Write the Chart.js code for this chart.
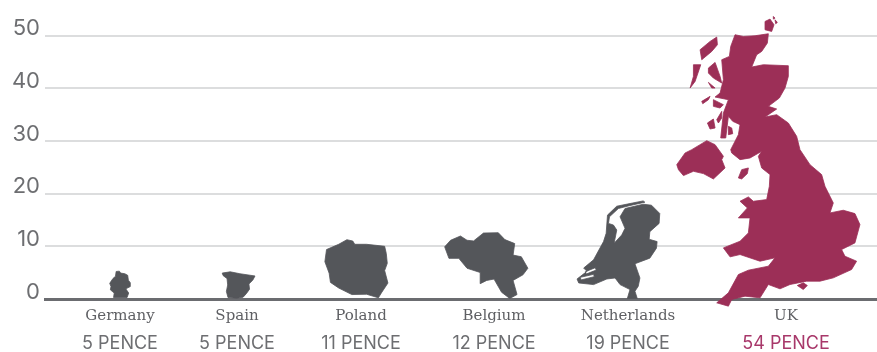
<!DOCTYPE html>
<html lang="en">
<head>
  <meta charset="UTF-8" />
  <title>Price per bag</title>
  <script src="https://cdn.jsdelivr.net/npm/chart.js"></script>
  <style>
    html, body { margin: 0; background: #fff; }
    canvas { display: block; }
  </style>
</head>
<body>
  <canvas id="chart" width="877" height="352"></canvas>
  <script>
    const countries = ['Germany', 'Spain', 'Poland', 'Belgium', 'Netherlands', 'UK'];
    const pence = [5, 5, 11, 12, 19, 54];
    const yTicks = [0, 10, 20, 30, 40, 50];

    // where each country sits along the x axis (the slots are not evenly spaced)
    const slotCentres = [75, 192, 316, 449, 583, 741];
    const xRange = 832;

    const grey = '#54565a';
    const crimson = '#9c2f57';
    const textGrey = '#6d6e71';
    const markFills = [grey, grey, grey, grey, grey, crimson];
    const priceColours = [textGrey, textGrey, textGrey, textGrey, textGrey, '#a8386a'];

    // Country silhouettes on an icon grid of flat x,y pairs. anchor is the grid
    // point on the slot centre and the baseline; a silhouette is sized so that
    // gridPerPence grid rows make up one pence of height.
    const gridPerPence = 15.77;
    const silhouettes = {
      Germany: {
        anchor: [90, 205.5],
        parts: [[78,123, 88,122, 92,128, 105,130, 114,135, 116,150, 122,158, 122,170, 108,177, 117,190, 112,204, 70,204, 72,190, 60,180, 62,170, 58,160, 68,145, 76,138]]
      },
      Spain: {
        anchor: [441, 205.5],
        parts: [[395,128, 420,124, 450,130, 497,137, 490,150, 478,162, 480,178, 470,192, 460,203, 440,206, 413,204, 408,185, 412,165, 410,145, 398,136]]
      },
      Poland: {
        anchor: [813, 205.5],
        parts: [[708,58, 745,42, 770,28, 788,32, 794,42, 830,42, 885,48, 890,70, 893,100, 885,122, 895,160, 875,190, 866,205, 830,194, 785,195, 745,175, 720,158, 716,130, 703,95]]
      },
      Belgium: {
        anchor: [192, 325.5],
        parts: [[42,170, 60,150, 90,137, 110,150, 130,152, 160,128, 205,127, 225,148, 255,160, 250,195, 275,200, 295,235, 280,255, 250,272, 262,315, 240,327, 215,308, 192,268, 170,272, 150,282, 150,248, 110,235, 85,205, 55,205]]
      },
      Netherlands: {
        anchor: [594, 325.5],
        parts: [
          [592,327, 600,300, 570,285, 555,265, 530,268, 490,285, 445,280, 440,268, 470,245, 460,235, 490,210, 520,155, 528,130, 532,75, 560,48, 600,40, 640,32, 645,36, 600,46, 565,55, 538,80, 535,100, 550,105, 560,120, 552,160, 575,135, 585,115, 570,80, 585,55, 640,42, 665,45, 690,70, 688,100, 660,125, 658,148, 682,155, 680,175, 660,205, 615,222, 630,265, 625,290, 615,305, 622,327],
          [465,246, 495,234, 498,241, 468,253],
          [450,263, 490,254, 492,261, 452,271]
        ]
      },
      UK: {
        anchor: [378, 865.5],
        parts: [
          // Great Britain
          [225,75, 250,80, 285,78, 325,72, 322,100, 305,125, 290,135, 275,172, 310,165, 385,168, 385,200, 375,235, 358,265, 325,290, 350,298, 315,322, 350,315, 385,340, 410,380, 420,420,
           450,465, 485,495, 495,530, 520,580, 510,610, 550,602, 585,612, 600,645, 585,700, 545,720, 555,740, 590,755, 575,780, 520,805, 480,815, 440,815, 390,825, 360,838, 325,825, 300,865, 255,860, 215,870, 205,890, 170,880, 205,850, 235,795, 265,782, 325,770, 345,745, 300,755, 240,735, 210,742, 190,715, 240,695, 265,670, 270,625, 235,625, 262,595, 240,575, 265,562, 280,575, 320,570, 328,530, 330,495, 305,475, 295,440, 305,425, 270,445, 240,450, 215,430,
           212,420, 235,375, 240,345, 218,335, 205,320, 197,385, 182,385, 190,310, 205,270, 165,262, 180,250, 190,210, 185,150, 208,140, 212,110],
          // Northern Ireland
          [50,465, 75,430, 95,420, 140,393, 165,405, 190,440, 185,450, 195,475, 160,508, 130,492, 100,485, 70,498, 55,480],
          // Man and Wight
          [235,505, 245,480, 265,475, 262,492, 245,508],
          [412,828, 430,820, 442,828, 430,840],
          // Hebrides and the west coast islands
          [120,120, 150,95, 170,82, 172,105, 155,125, 125,150],
          [100,165, 122,165, 105,215, 90,235, 100,200],
          [145,175, 165,158, 180,200, 185,220, 160,205, 145,190],
          [145,218, 165,235, 155,235],
          [125,275, 150,260, 145,270, 128,282],
          [160,270, 190,285, 180,295, 160,290],
          [170,330, 185,305, 185,325, 175,340],
          [142,340, 160,328, 165,355, 150,358],
          [205,350, 215,355, 218,372, 205,375],
          // Orkney and Shetland
          [315,35, 330,28, 342,45, 335,65, 315,60],
          [345,30, 352,38, 347,42],
          [340,20, 345,25, 340,28]
        ]
      }
    };

    // Bars are only used for their geometry: the dataset is painted as silhouettes
    const silhouettePlugin = {
      id: 'silhouettes',
      beforeDatasetDraw(chart, args) {
        const { ctx } = chart;
        args.meta.data.forEach((bar, i) => {
          const shape = silhouettes[countries[i]];
          const k = (bar.base - bar.y) / (pence[i] * gridPerPence);
          ctx.beginPath();
          shape.parts.forEach(part => {
            for (let p = 0; p < part.length; p += 2) {
              const px = bar.x + (part[p] - shape.anchor[0]) * k;
              const py = bar.base + (part[p + 1] - shape.anchor[1]) * k;
              if (p === 0) ctx.moveTo(px, py); else ctx.lineTo(px, py);
            }
            ctx.closePath();
          });
          ctx.fillStyle = ctx.strokeStyle = bar.options.backgroundColor;
          ctx.fill('evenodd');
          // a thin round stroke takes the hard corners off the outlines
          ctx.lineJoin = 'round';
          ctx.lineWidth = 0.8;
          ctx.stroke();
        });
        return false;
      }
    };

    const slotTicks = scale => { scale.ticks = slotCentres.map(value => ({ value })); };

    new Chart(document.getElementById('chart'), {
      type: 'bar',
      data: {
        datasets: [{
          data: pence.map((y, i) => ({ x: slotCentres[i], y })),
          backgroundColor: markFills
        }]
      },
      plugins: [silhouettePlugin],
      options: {
        responsive: false,
        animation: false,
        layout: { padding: { top: 35.5 } },
        plugins: { legend: { display: false }, tooltip: { enabled: false } },
        scales: {
          x: {
            type: 'linear',
            offset: false,
            min: 0,
            max: xRange,
            weight: 0,
            grid: { display: false, drawTicks: false },
            border: { color: '#6b6c70', width: 3 },
            afterBuildTicks: slotTicks,
            afterFit: s => { s.height = 28; },
            ticks: {
              autoSkip: false,
              maxRotation: 0,
              padding: 8,
              color: '#5f6064',
              font: { family: '"DejaVu Serif"', size: 15 },
              callback: (v, i) => countries[i]
            }
          },
          prices: {
            type: 'linear',
            axis: 'x',
            position: 'bottom',
            offset: false,
            min: 0,
            max: xRange,
            weight: 1,
            grid: { display: false, drawTicks: false },
            border: { display: false },
            afterBuildTicks: slotTicks,
            afterFit: s => { s.height = 25; },
            ticks: {
              autoSkip: false,
              maxRotation: 0,
              padding: 6,
              color: ctx => priceColours[ctx.index],
              font: { family: 'Inter', size: 18 },
              callback: (v, i) => pence[i] + ' PENCE'
            }
          },
          y: {
            min: 0,
            max: 50,
            afterBuildTicks: s => { s.ticks = yTicks.map(value => ({ value })); },
            afterFit: s => { s.width = 45; },
            grid: {
              color: '#dcddde',
              lineWidth: 2,
              drawTicks: false
            },
            border: { display: false },
            ticks: {
              padding: 5,
              labelOffset: -7,
              color: textGrey,
              font: { family: 'Inter', size: 22 }
            }
          }
        }
      }
    });
  </script>
</body>
</html>
